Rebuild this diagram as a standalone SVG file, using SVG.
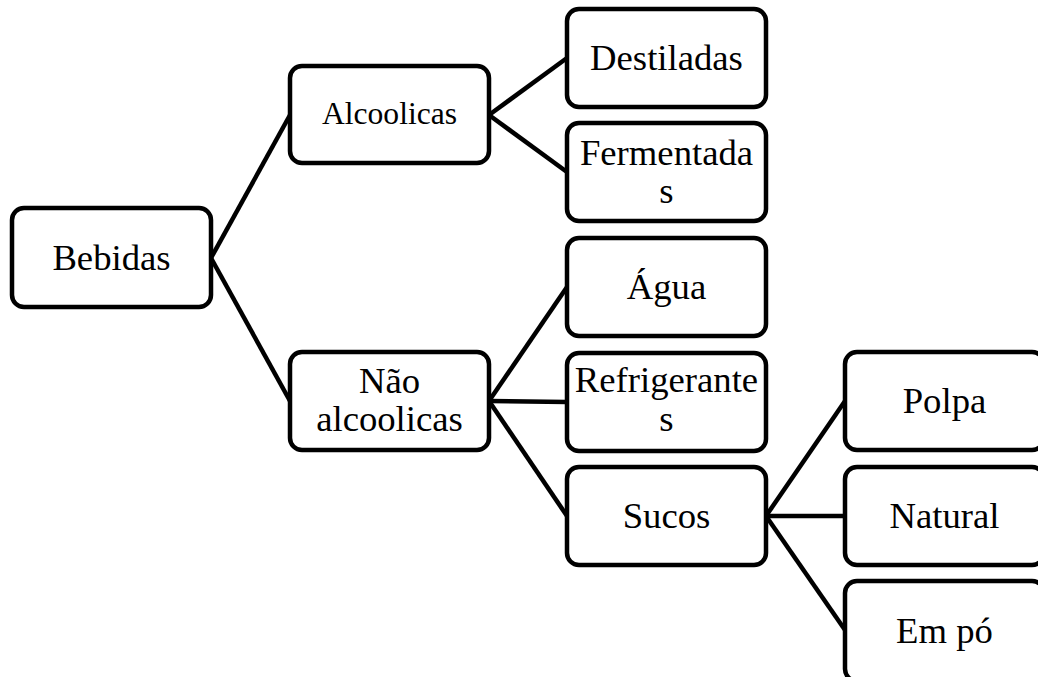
<svg xmlns="http://www.w3.org/2000/svg" width="1038" height="677" viewBox="0 0 1038 677">
<style>
.box{fill:#fff;stroke:#000;stroke-width:4.5}
.t{font-family:"Liberation Serif","Times New Roman",serif;font-size:36.7px;fill:#000;text-anchor:middle}
.s{font-size:31.6px}
.c line{stroke:#000;stroke-width:4.5}
</style>
<rect width="1038" height="677" fill="#fff"/>
<g class="c" id="connectors">
<line x1="211" y1="258" x2="290" y2="115"/>
<line x1="211" y1="258" x2="290" y2="401"/>
<line x1="489" y1="115" x2="567" y2="58"/>
<line x1="489" y1="115" x2="567" y2="172"/>
<line x1="489" y1="401" x2="567" y2="287"/>
<line x1="489" y1="401" x2="567" y2="402"/>
<line x1="489" y1="401" x2="567" y2="516"/>
<line x1="766" y1="516" x2="845" y2="401"/>
<line x1="766" y1="516" x2="845" y2="516"/>
<line x1="766" y1="516" x2="845" y2="630"/>
</g>
<g id="bebidas"><rect class="box" x="12" y="208" width="199" height="99" rx="12"/><text class="t" x="111.5" y="270">Bebidas</text></g>
<g id="alcoolicas"><rect class="box" x="290" y="66" width="199" height="97" rx="12"/><text class="t s" x="389.5" y="124">Alcoolicas</text></g>
<g id="nao-alcoolicas"><rect class="box" x="290" y="352" width="199" height="98" rx="12"/><text class="t" x="389.5" y="393">Não</text><text class="t" x="389.5" y="431">alcoolicas</text></g>
<g id="destiladas"><rect class="box" x="567" y="9" width="199" height="98" rx="12"/><text class="t" x="666.5" y="70">Destiladas</text></g>
<g id="fermentadas"><rect class="box" x="567" y="123" width="199" height="98" rx="12"/><text class="t" x="666.5" y="165">Fermentada</text><text class="t" x="666.5" y="203">s</text></g>
<g id="agua"><rect class="box" x="567" y="238" width="199" height="98" rx="12"/><text class="t" x="666.5" y="299">Água</text></g>
<g id="refrigerantes"><rect class="box" x="567" y="353" width="199" height="98" rx="12"/><text class="t" x="666.5" y="392">Refrigerante</text><text class="t" x="666.5" y="431">s</text></g>
<g id="sucos"><rect class="box" x="567" y="467" width="199" height="98" rx="12"/><text class="t" x="666.5" y="528">Sucos</text></g>
<g id="polpa"><rect class="box" x="845" y="352" width="199" height="98" rx="12"/><text class="t" x="944.5" y="413">Polpa</text></g>
<g id="natural"><rect class="box" x="845" y="467" width="199" height="98" rx="12"/><text class="t" x="944.5" y="528">Natural</text></g>
<g id="em-po"><rect class="box" x="845" y="581" width="199" height="100" rx="12"/><text class="t" x="944.5" y="643">Em pó</text></g>
</svg>
